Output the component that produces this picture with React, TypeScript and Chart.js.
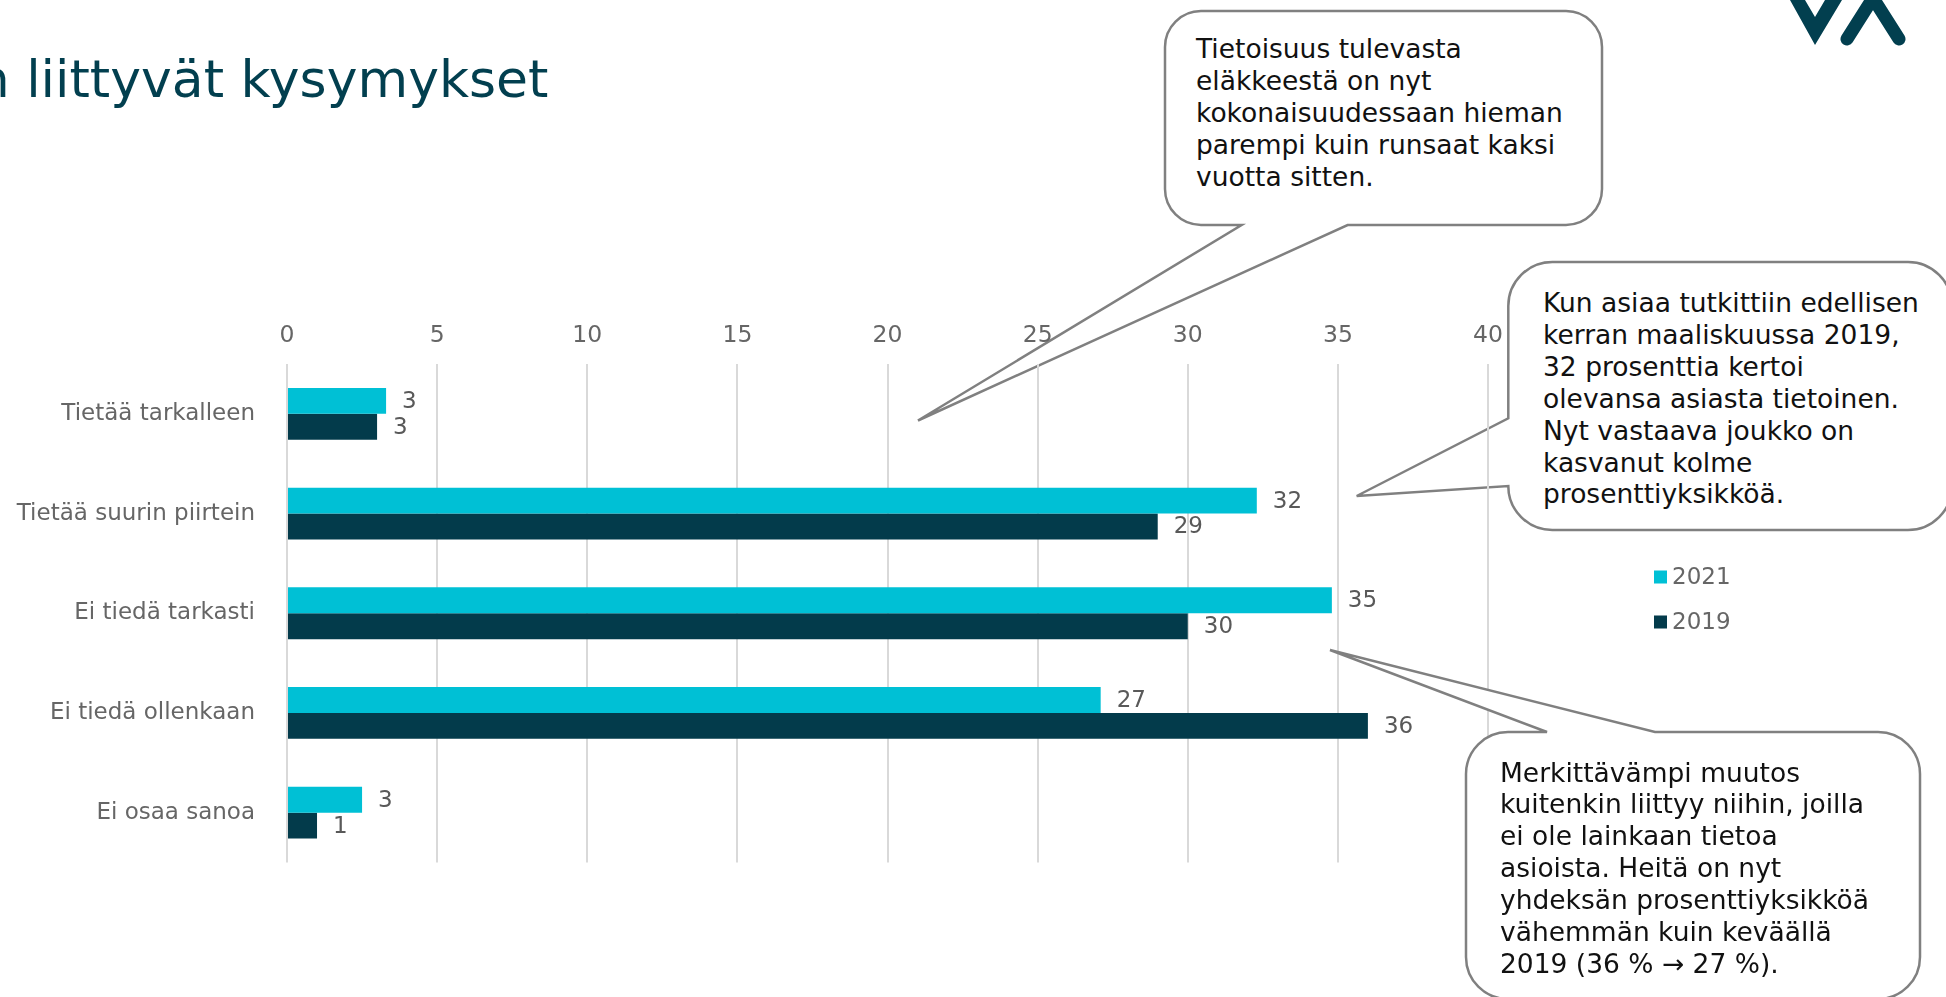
import React, { useEffect, useRef } from "react";
import { Chart, registerables } from "chart.js";

Chart.register(...registerables);

// ---- data ----
const categories = [
  "Tietää tarkalleen",
  "Tietää suurin piirtein",
  "Ei tiedä tarkasti",
  "Ei tiedä ollenkaan",
  "Ei osaa sanoa",
];
const seriesNames = ["2021", "2019"];
const values2021 = [3.3, 32.3, 34.8, 27.1, 2.5];
const values2019 = [3.0, 29.0, 30.0, 36.0, 1.0];
const xMin = 0;
const xMax = 40;
const xStep = 5;

const titleText = "n liittyvät kysymykset";
const callout1Lines = [
  "Tietoisuus tulevasta",
  "eläkkeestä on nyt",
  "kokonaisuudessaan hieman",
  "parempi kuin runsaat kaksi",
  "vuotta sitten.",
];
const callout2Lines = [
  "Kun asiaa tutkittiin edellisen",
  "kerran maaliskuussa 2019,",
  "32 prosenttia kertoi",
  "olevansa asiasta tietoinen.",
  "Nyt vastaava joukko on",
  "kasvanut kolme",
  "prosenttiyksikköä.",
];
const callout3Lines = [
  "Merkittävämpi muutos",
  "kuitenkin liittyy niihin, joilla",
  "ei ole lainkaan tietoa",
  "asioista. Heitä on nyt",
  "yhdeksän prosenttiyksikköä",
  "vähemmän kuin keväällä",
  "2019 (36 % \u2192 27 %).",
];

// ---- styles ----
const FONT = '"DejaVu Sans", Verdana, sans-serif';
const CYAN = "#00c0d5";
const DARK = "#033b4b";
const TEAL = "#023f4f";
const GRAY_TEXT = "#666666";
const LABEL_TEXT = "#595959";
const CALLOUT_STROKE = "#808080";

const W = 1946;
const H = 997;

const dataLabelPlugin = {
  id: "dataLabels",
  afterDatasetsDraw(chart: any) {
    const ctx = chart.ctx;
    ctx.save();
    ctx.font = `23px ${FONT}`;
    ctx.fillStyle = LABEL_TEXT;
    ctx.textAlign = "left";
    ctx.textBaseline = "middle";
    chart.data.datasets.forEach((ds: any, di: number) => {
      const meta = chart.getDatasetMeta(di);
      meta.data.forEach((el: any, i: number) => {
        const v = ds.data[i];
        ctx.fillText(String(Math.round(v)), el.x + 16, el.y + 1);
      });
    });
    ctx.restore();
  },
};

const legendPlugin = {
  id: "customLegend",
  afterDraw(chart: any) {
    const ctx = chart.ctx;
    ctx.save();
    chart.data.datasets.forEach((ds: any, i: number) => {
      const y = 577 + i * 45;
      ctx.fillStyle = ds.backgroundColor;
      ctx.fillRect(1654, y - 6.5, 13, 13);
      ctx.fillStyle = GRAY_TEXT;
      ctx.font = `23px ${FONT}`;
      ctx.textAlign = "left";
      ctx.textBaseline = "middle";
      ctx.fillText(ds.label, 1672, y + 1);
    });
    ctx.restore();
  },
};

function roundedCalloutPath(
  x0: number,
  y0: number,
  x1: number,
  y1: number,
  r: number,
  side: "top" | "bottom" | "left",
  a: number,
  b: number,
  tx: number,
  ty: number
) {
  let d = `M ${x0 + r} ${y0} `;
  if (side === "top") d += `H ${a} L ${tx} ${ty} L ${b} ${y0} `;
  d += `H ${x1 - r} A ${r} ${r} 0 0 1 ${x1} ${y0 + r} `;
  d += `V ${y1 - r} A ${r} ${r} 0 0 1 ${x1 - r} ${y1} `;
  if (side === "bottom") d += `H ${b} L ${tx} ${ty} L ${a} ${y1} `;
  d += `H ${x0 + r} A ${r} ${r} 0 0 1 ${x0} ${y1 - r} `;
  if (side === "left") d += `V ${b} L ${tx} ${ty} L ${x0} ${a} `;
  d += `V ${y0 + r} A ${r} ${r} 0 0 1 ${x0 + r} ${y0} Z`;
  return d;
}

function CalloutText({ lines, x, y, step }: { lines: string[]; x: number; y: number; step: number }) {
  return (
    <text x={x} y={y} fontFamily={FONT} fontSize={26.5} fill="#111111">
      {lines.map((l, i) => (
        <tspan key={i} x={x} y={y + i * step}>
          {l}
        </tspan>
      ))}
    </text>
  );
}

export default function App() {
  const canvasRef = useRef<HTMLCanvasElement | null>(null);

  useEffect(() => {
    if (!canvasRef.current) return;
    const chart = new Chart(canvasRef.current, {
      type: "bar",
      data: {
        labels: categories,
        datasets: [
          {
            label: seriesNames[0],
            data: values2021,
            backgroundColor: CYAN,
            categoryPercentage: 0.52,
            barPercentage: 1.0,
          },
          {
            label: seriesNames[1],
            data: values2019,
            backgroundColor: DARK,
            categoryPercentage: 0.52,
            barPercentage: 1.0,
          },
        ],
      },
      options: {
        indexAxis: "y",
        responsive: false,
        animation: false,
        devicePixelRatio: 1,
        layout: { padding: { left: 0, top: 0, right: W - 1488, bottom: H - 862.5 } },
        plugins: {
          legend: { display: false },
          tooltip: { enabled: false },
          title: { display: false },
        },
        scales: {
          x: {
            position: "top",
            min: xMin,
            max: xMax,
            ticks: {
              stepSize: xStep,
              font: { family: FONT, size: 23.5 },
              color: GRAY_TEXT,
              padding: 14.5,
            },
            grid: { color: "#d9d9d9", lineWidth: 2, drawTicks: false },
            border: { display: false },
            afterFit: (s: any) => {
              s.height = 364;
            },
          },
          y: {
            ticks: {
              font: { family: FONT, size: 23 },
              color: GRAY_TEXT,
              padding: 24,
            },
            grid: { display: false },
            border: { display: false },
            afterFit: (s: any) => {
              s.width = 287;
            },
          },
        },
      } as any,
      plugins: [dataLabelPlugin, legendPlugin],
    });
    return () => chart.destroy();
  }, []);

  const c1 = roundedCalloutPath(1165, 11, 1602, 225, 36, "bottom", 1241.6, 1347.6, 918, 420.5);
  const c2 = roundedCalloutPath(1508.3, 262, 1952, 530, 44, "left", 418.3, 486, 1356.7, 496);
  const c3 = roundedCalloutPath(1466, 732, 1920, 999, 42, "top", 1547, 1655, 1330, 650);

  return (
    <div style={{ position: "fixed", left: 0, top: 0, width: W, height: H, background: "#ffffff", overflow: "hidden" }}>
      <svg width={W} height={H} style={{ position: "absolute", left: 0, top: 0 }}>
        <path d={c1} fill="#ffffff" stroke={CALLOUT_STROKE} strokeWidth={2.5} strokeLinejoin="miter" />
        <path d={c2} fill="#ffffff" stroke={CALLOUT_STROKE} strokeWidth={2.5} strokeLinejoin="miter" />
        <CalloutText lines={callout1Lines} x={1196} y={58.3} step={31.8} />
        <CalloutText lines={callout2Lines} x={1543} y={312} step={31.9} />
      </svg>
      <canvas ref={canvasRef} width={W} height={H} style={{ position: "absolute", left: 0, top: 0 }} />
      <svg width={W} height={H} style={{ position: "absolute", left: 0, top: 0 }}>
        <text x={548.5} y={96.7} textAnchor="end" fontFamily={FONT} fontSize={52} fill={TEAL}>
          {titleText}
        </text>
        <polygon points="1790,0 1805,0 1815,17 1825,0 1842,0 1815,45" fill={TEAL} />
        <polyline
          points="1847,39 1873,-2 1899,39"
          fill="none"
          stroke={TEAL}
          strokeWidth={13}
          strokeLinecap="round"
          strokeLinejoin="miter"
        />
        <path d={c3} fill="#ffffff" stroke={CALLOUT_STROKE} strokeWidth={2.5} strokeLinejoin="miter" />
        <CalloutText lines={callout3Lines} x={1500} y={781.5} step={31.9} />
      </svg>
    </div>
  );
}
